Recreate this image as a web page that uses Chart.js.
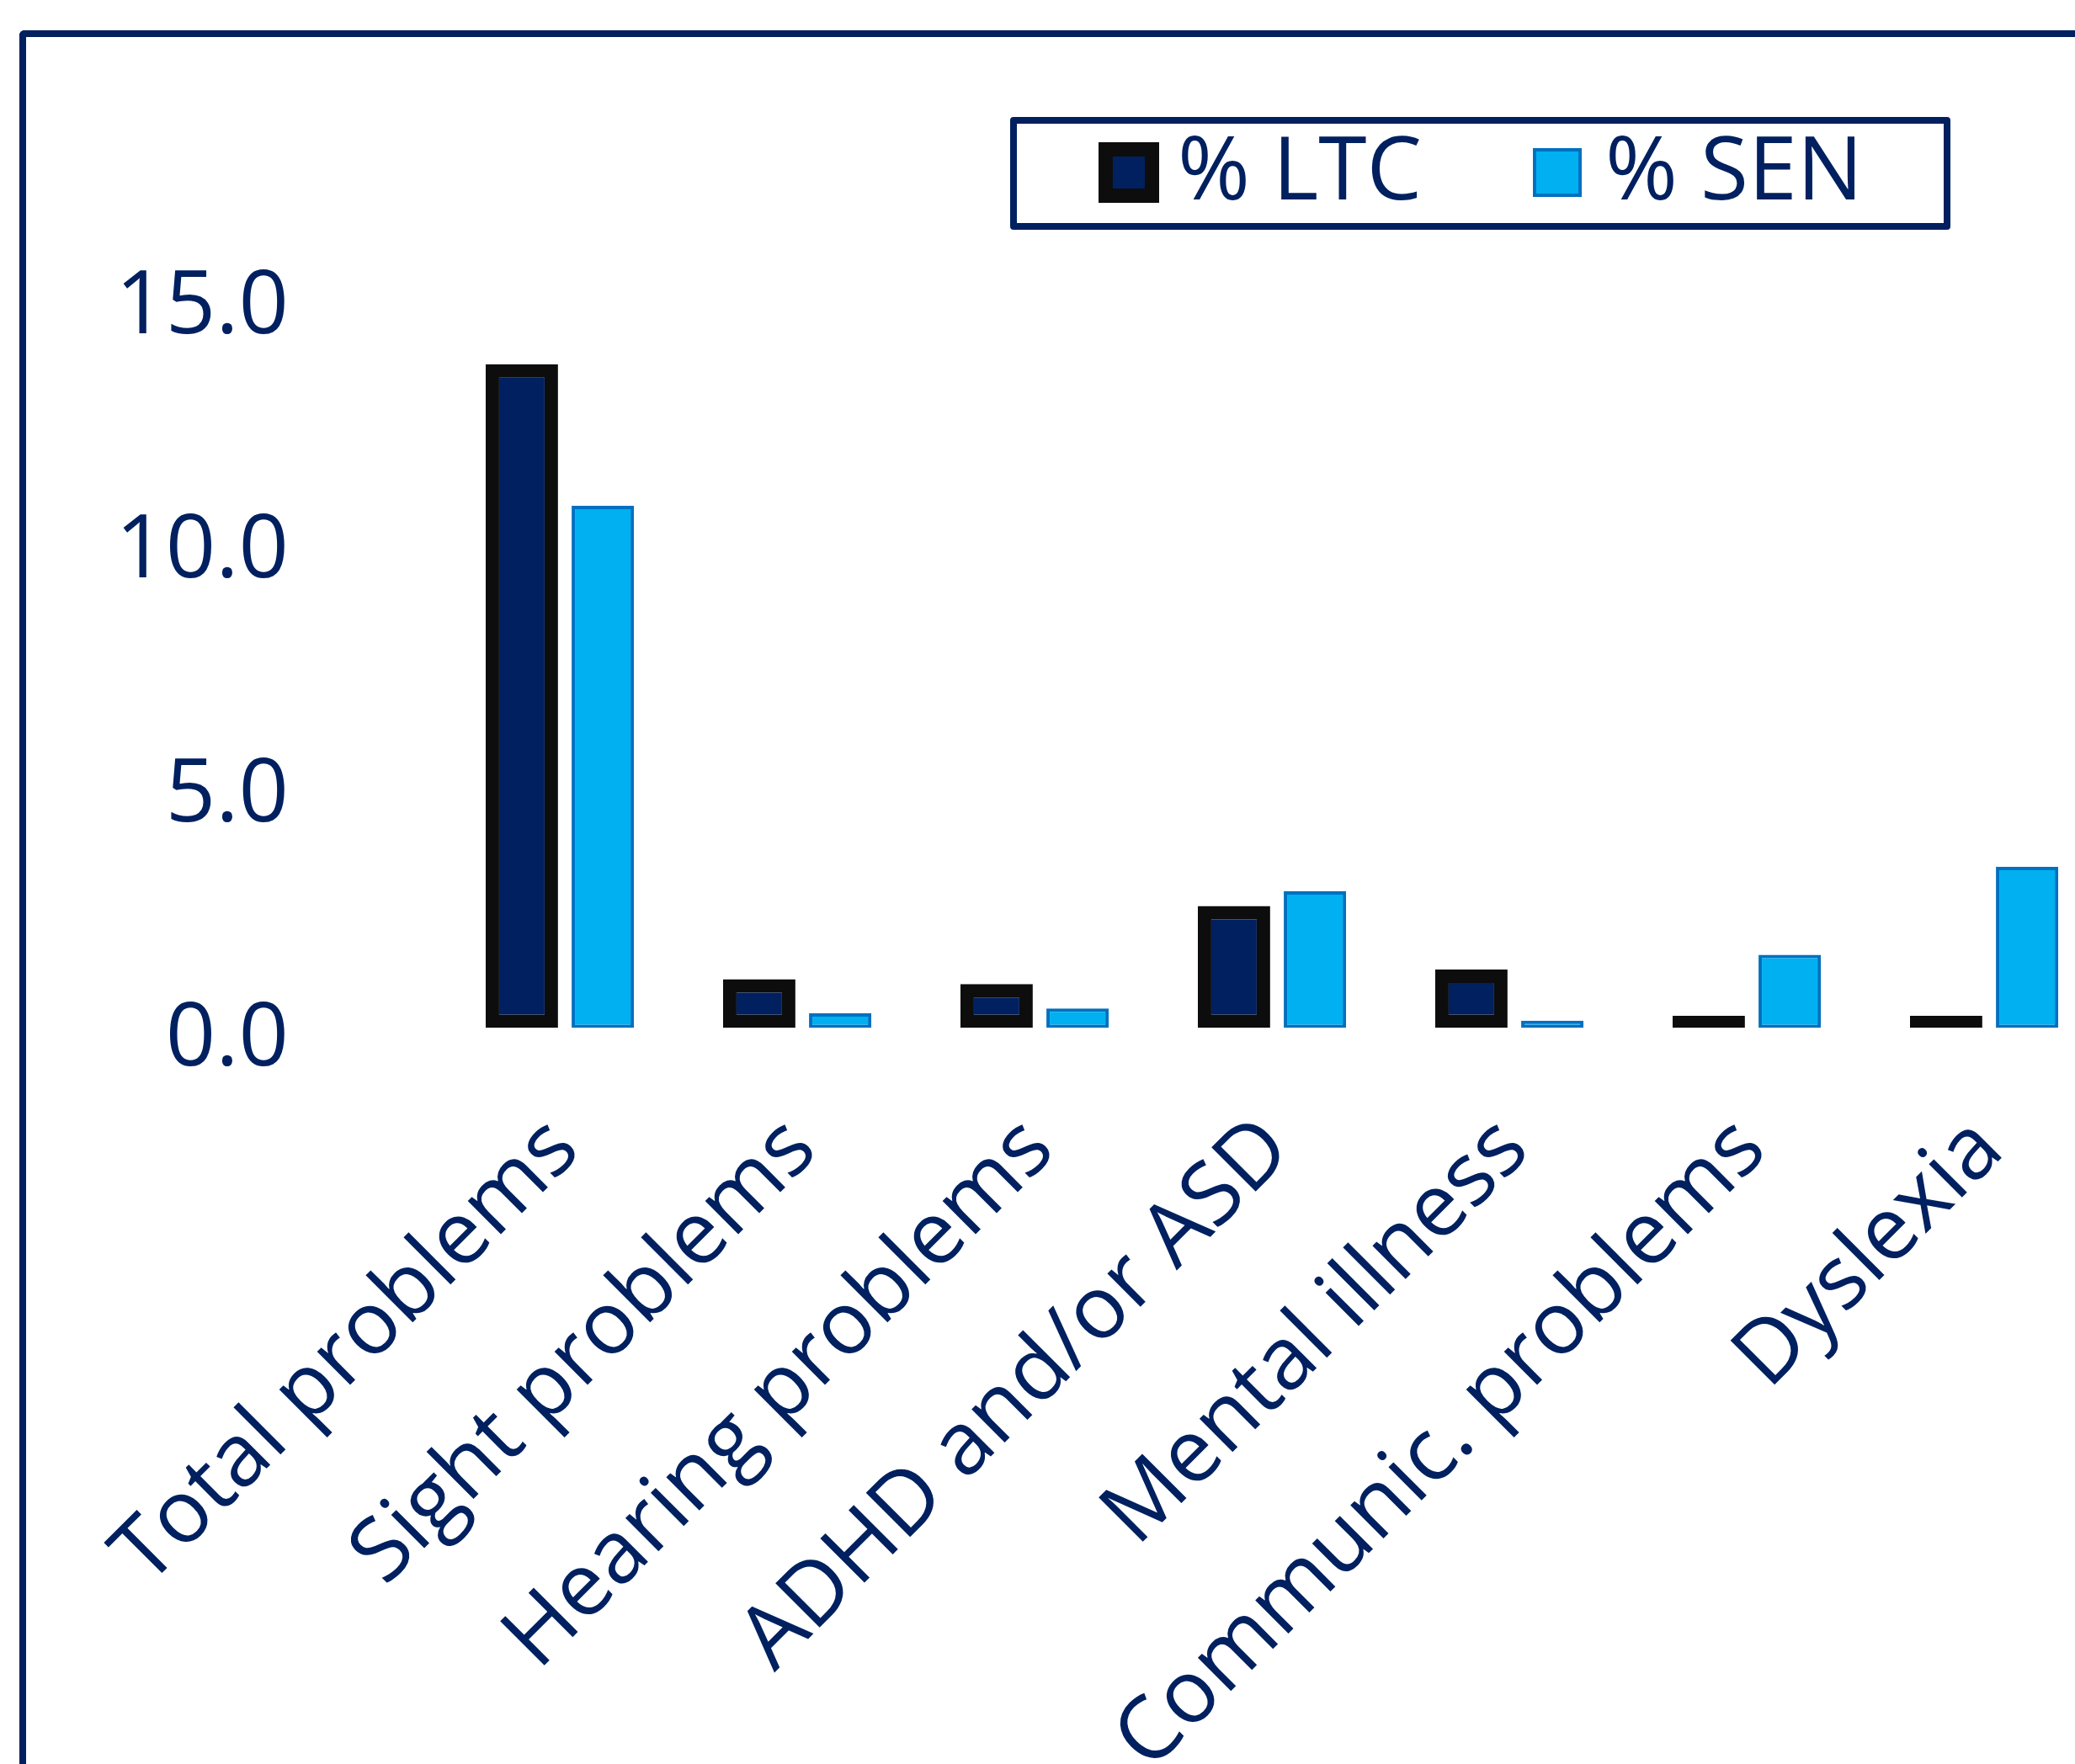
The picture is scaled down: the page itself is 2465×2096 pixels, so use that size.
<!DOCTYPE html>
<html>
<head>
<meta charset="utf-8">
<title>LTC vs SEN</title>
<script src="https://cdn.jsdelivr.net/npm/chart.js@4.4.0/dist/chart.umd.min.js"></script>
<style>
  html, body { margin:0; padding:0; background:#fff; overflow:hidden; width:2465px; height:2096px; }
  #frame { position:absolute; left:23px; top:36px; width:2700px; height:2300px; box-sizing:border-box;
           border-left:8px solid #002060; border-top:8px solid #002060; border-top-left-radius:6px; }
  #wrap  { position:absolute; left:0; top:0; width:2560px; height:2096px; }
</style>
</head>
<body>
<div id="frame"></div>
<div id="wrap"><canvas id="chart"></canvas></div>
<script>
/* % of pupils with a long-term condition vs % with SEN, by problem type */

const categories = ['Total problems','Sight problems','Hearing problems','ADHD and/or ASD',
                    'Mental illness','Communic. problems','Dyslexia'];
const ltcValues  = [13.6, 1.0, 0.9, 2.5, 1.2, 0.25, 0.25];
const senValues  = [10.7, 0.3, 0.4, 2.8, 0.15, 1.5, 3.3];
const yTicks     = [0, 5, 10, 15];

const NAVY = '#002060';
const FONT = "'Open Sans', 'Noto Sans', sans-serif";

// Plot area placement (px on the canvas)
const PLOT_LEFT = 527, PLOT_TOP = 351.5, PLOT_BOTTOM = 1221.5, PLOT_RIGHT = 2501;
const CANVAS_W = 2560, CANVAS_H = 2096;

// Legend drawn in its own bordered box, like the original
const legendBox = {
  id: 'legendBox',
  afterDraw(chart) {
    const ctx = chart.ctx;
    const spots = [
      { sx:1305, sy:169, size:72, tx:1399 },
      { sx:1821, sy:176, size:58, tx:1907 },
    ];
    ctx.save();
    ctx.strokeStyle = NAVY;
    ctx.lineWidth = 8;
    ctx.lineJoin = 'round';
    ctx.strokeRect(1204, 143, 1109, 126);
    ctx.font = `104px ${FONT}`;
    ctx.textBaseline = 'alphabetic';
    ctx.textAlign = 'left';
    chart.data.datasets.forEach((ds, i) => {
      const p = spots[i];
      const bw = ds.legendBorder;
      ctx.fillStyle = ds.borderColor;
      ctx.fillRect(p.sx, p.sy, p.size, p.size);
      ctx.fillStyle = ds.backgroundColor;
      ctx.fillRect(p.sx + bw, p.sy + bw, p.size - 2*bw, p.size - 2*bw);
      ctx.fillStyle = NAVY;
      ctx.fillText(ds.label, p.tx, 237);
    });
    ctx.restore();
  }
};

const ctx = document.getElementById('chart');

new Chart(ctx, {
  type: 'bar',
  data: {
    labels: categories,
    datasets: [
      { label:'% LTC', data:ltcValues, backgroundColor:NAVY, borderColor:'#0d0d0d',
        borderWidth:16, borderSkipped:false, barPercentage:0.894, categoryPercentage:0.682,
        inflateAmount:0, legendBorder:17 },
      { label:'% SEN', data:senValues, backgroundColor:'#00b0f0', borderColor:'#0070c0',
        borderWidth:4, borderSkipped:false, barPercentage:0.77, categoryPercentage:0.682,
        inflateAmount:0, legendBorder:4 },
    ],
  },
  options: {
    responsive:true, maintainAspectRatio:false, animation:false,
    layout:{ padding:{ left:0, top:PLOT_TOP, right:CANVAS_W - PLOT_RIGHT, bottom:0 } },
    plugins:{ legend:{ display:false }, tooltip:{ enabled:false } },
    scales:{
      x:{
        grid:{ display:false, drawTicks:false }, border:{ display:false },
        ticks:{ color:NAVY, font:{ family:FONT, size:104 }, maxRotation:45, minRotation:45,
                autoSkip:false, padding:83, labelOffset:3 },
        afterFit: s => { s.height = CANVAS_H - PLOT_BOTTOM; },
      },
      y:{
        min:yTicks[0], max:yTicks[yTicks.length-1],
        grid:{ display:false, drawTicks:false }, border:{ display:false },
        afterBuildTicks: s => { s.ticks = yTicks.map(v => ({ value:v })); },
        ticks:{ color:NAVY, font:{ family:FONT, size:104 }, padding:184, labelOffset:15,
                callback: v => Number(v).toFixed(1) },
        afterFit: s => { s.width = PLOT_LEFT; },
      },
    },
  },
  plugins:[legendBox],
});
</script>
</body>
</html>
